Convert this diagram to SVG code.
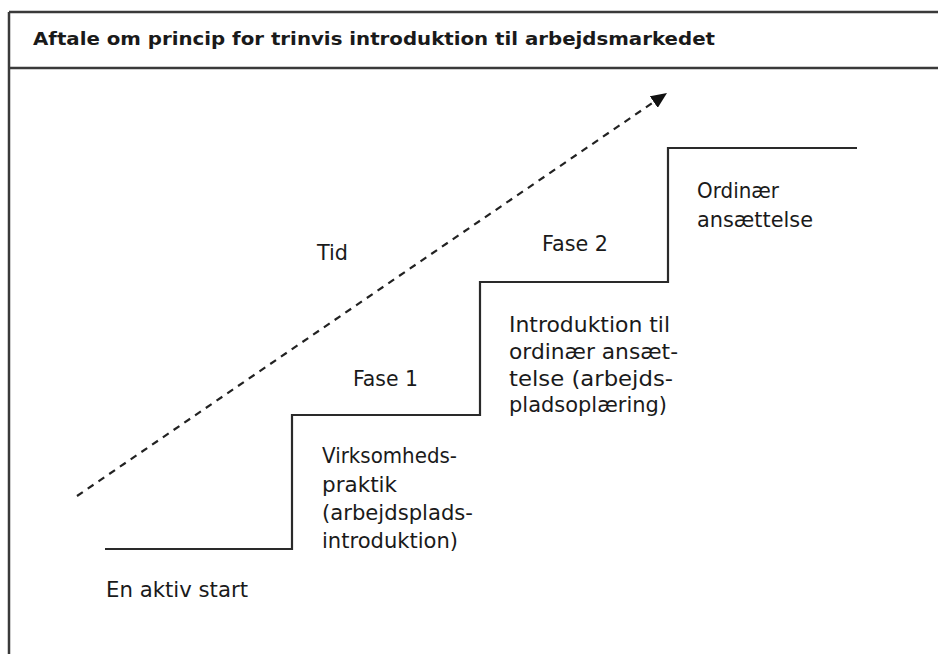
<svg xmlns="http://www.w3.org/2000/svg" width="938" height="654" viewBox="0 0 938 654">
  <style>
    .frame { stroke: #3a3a3a; stroke-width: 2.5; fill: none; }
    .step { stroke: #2a2a2a; stroke-width: 2.2; fill: none; }
    .dash { stroke: #222; stroke-width: 2.2; fill: none; stroke-dasharray: 7 6; }
    .lbl { font-family: "DejaVu Sans", "Liberation Sans", sans-serif; font-size: 21px; fill: #1a1a1a; }
    .title { font-family: "DejaVu Sans", "Liberation Sans", sans-serif; font-size: 17px; font-weight: bold; fill: #1a1a1a; }
  </style>
  <defs>
    <marker id="ahead" markerWidth="16" markerHeight="14" refX="16" refY="7" orient="auto" markerUnits="userSpaceOnUse">
      <path d="M0,0 L16,7 L0,14 Z" fill="#111"/>
    </marker>
  </defs>
  <rect width="938" height="654" fill="#ffffff"/>

  <g id="frame">
    <path class="frame" d="M9,12 H940 M9,12 V656 M9,68 H940"/>
    <text class="title" x="33" y="45" textLength="682" lengthAdjust="spacingAndGlyphs">Aftale om princip for trinvis introduktion til arbejdsmarkedet</text>
  </g>

  <g id="connectors">
    <path class="dash" d="M77,496 L667,93" marker-end="url(#ahead)"/>
    <path class="step" d="M105,549 H292 V415 H480 V282 H668 V148 H857"/>
  </g>

  <g id="tid">
    <text class="lbl" x="317" y="260" textLength="31" lengthAdjust="spacingAndGlyphs">Tid</text>
  </g>
  <g id="start">
    <text class="lbl" x="106" y="597" textLength="142" lengthAdjust="spacingAndGlyphs">En aktiv start</text>
  </g>
  <g id="fase1">
    <text class="lbl" x="353" y="386" textLength="65" lengthAdjust="spacingAndGlyphs">Fase 1</text>
    <text class="lbl" x="322" y="463" textLength="135" lengthAdjust="spacingAndGlyphs">Virksomheds-</text>
    <text class="lbl" x="322" y="492" textLength="75" lengthAdjust="spacingAndGlyphs">praktik</text>
    <text class="lbl" x="322" y="520" textLength="151" lengthAdjust="spacingAndGlyphs">(arbejdsplads-</text>
    <text class="lbl" x="322" y="548" textLength="136" lengthAdjust="spacingAndGlyphs">introduktion)</text>
  </g>
  <g id="fase2">
    <text class="lbl" x="542" y="251" textLength="66" lengthAdjust="spacingAndGlyphs">Fase 2</text>
    <text class="lbl" x="509" y="332" textLength="161" lengthAdjust="spacingAndGlyphs">Introduktion til</text>
    <text class="lbl" x="509" y="359" textLength="169" lengthAdjust="spacingAndGlyphs">ordinær ansæt-</text>
    <text class="lbl" x="509" y="386" textLength="164" lengthAdjust="spacingAndGlyphs">telse (arbejds-</text>
    <text class="lbl" x="509" y="412" textLength="158" lengthAdjust="spacingAndGlyphs">pladsoplæring)</text>
  </g>
  <g id="ordinaer">
    <text class="lbl" x="697" y="198" textLength="82" lengthAdjust="spacingAndGlyphs">Ordinær</text>
    <text class="lbl" x="697" y="227" textLength="116" lengthAdjust="spacingAndGlyphs">ansættelse</text>
  </g>
</svg>
